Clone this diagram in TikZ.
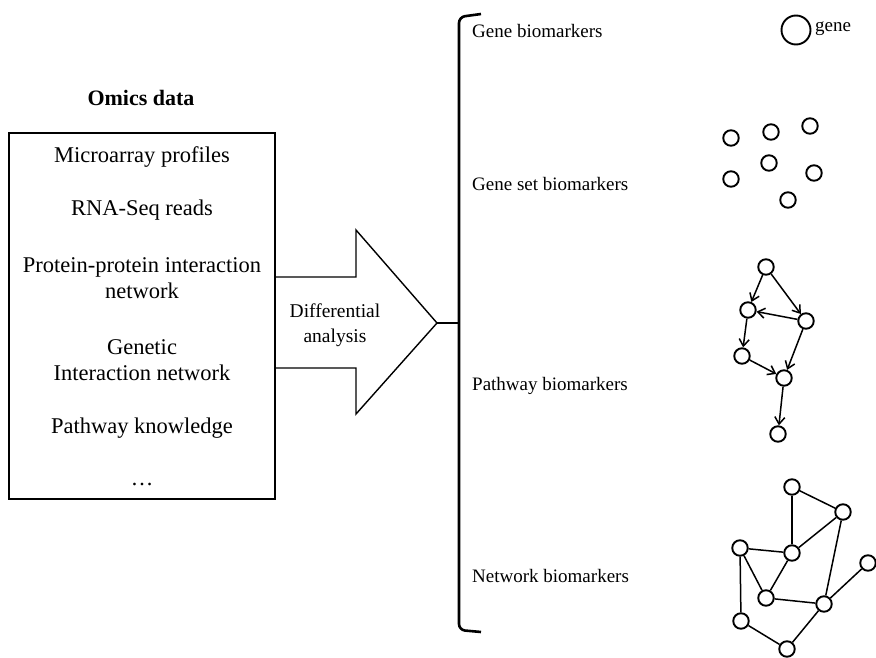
\documentclass[tikz,border=0pt]{standalone}
\usepackage{fontspec}
\setmainfont{Liberation Serif}
\usetikzlibrary{arrows.meta}
\begin{document}
\begin{tikzpicture}[x=1pt,y=-1pt,
  boxtext/.style={font=\fontsize{22.5}{26.5}\selectfont, inner sep=0pt, align=center},
  lbl/.style={font=\fontsize{19}{22}\selectfont, anchor=west, inner sep=0pt},
  gn/.style={circle, draw, line width=1.9pt, minimum size=15.5pt, inner sep=0pt},
  ed/.style={line width=1.5pt},
  dir/.style={line width=1.5pt, -{Straight Barb[length=7pt,width=10pt,line width=1.5pt]}},
  thin/.style={line width=1.4pt}
]
\useasboundingbox (0,0) rectangle (876,658);

% Omics box
\node[font=\fontsize{22}{26}\selectfont\bfseries, inner sep=0pt] (title) at (141,98) {Omics data};
\draw[thin] (9,133) rectangle (275,499);
\coordinate (boxa) at (275,277);
\coordinate (boxb) at (275,368);
\node[boxtext] (t1) at (142,157) {Microarray profiles};
\node[boxtext] (t2) at (142,210) {RNA-Seq reads};
\node[boxtext] (t3) at (142,278) {Protein-protein interaction\\network};
\node[boxtext] (t4) at (142,360) {Genetic\\Interaction network};
\node[boxtext] (t5) at (142,428) {Pathway knowledge};
\node[boxtext] (t6) at (142,484) {\dots};

% big arrow
\coordinate (tip) at (437,323);
\draw[thin, line join=miter] (boxa) -- (356,277) -- (356,230) -- (tip) -- (356,414) -- (356,368) -- (boxb);
\node[font=\fontsize{19.5}{24.5}\selectfont, align=center, inner sep=0pt] (diff) at (335,325) {Differential\\analysis};

% brace
\coordinate (bmid) at (459,323);
\draw[line width=2.6pt, rounded corners=6pt] (481,14) -- (459,17) -- (459,630) -- (481,632);
\draw[line width=2.6pt] (tip) -- (bmid);

% labels
\node[lbl] (l1) at (472,31) {Gene biomarkers};
\node[lbl] (l2) at (472,184) {Gene set biomarkers};
\node[lbl] (l3) at (472,386) {Pathway biomarkers};
\node[lbl] (l4) at (472,576) {Network biomarkers};

% gene legend
\node[circle, draw, line width=1.9pt, minimum size=29pt, inner sep=0pt] (g0) at (796,30) {};
\node[font=\fontsize{19}{22}\selectfont, anchor=west, inner sep=0pt] (gt) at (815,29) {gene};

% gene set
\node[gn] (s1) at (731,138) {};
\node[gn] (s2) at (771,132) {};
\node[gn] (s3) at (810,126) {};
\node[gn] (s4) at (769,163) {};
\node[gn] (s5) at (731,179) {};
\node[gn] (s6) at (814,173) {};
\node[gn] (s7) at (788,200) {};

% pathway
\node[gn] (pa) at (766,267) {};
\node[gn] (pb) at (748,310) {};
\node[gn] (pc) at (806,321) {};
\node[gn] (pd) at (742,356) {};
\node[gn] (pe) at (784,378) {};
\node[gn] (pf) at (778,434) {};
\draw[dir] (pa) -- (pb);
\draw[dir] (pa) -- (pc);
\draw[dir] (pc) -- (pb);
\draw[dir] (pb) -- (pd);
\draw[dir] (pd) -- (pe);
\draw[dir] (pc) -- (pe);
\draw[dir] (pe) -- (pf);

% network
\node[gn] (n1) at (792,487) {};
\node[gn] (n2) at (843,512) {};
\node[gn] (n3) at (740,548) {};
\node[gn] (n4) at (792,553) {};
\node[gn] (n5) at (868,563) {};
\node[gn] (n6) at (766,598) {};
\node[gn] (n7) at (824,604) {};
\node[gn] (n8) at (741,621) {};
\node[gn] (n9) at (787,649) {};
\draw[ed] (n1) -- (n2);
\draw[ed] (n1) -- (n4);
\draw[ed] (n2) -- (n4);
\draw[ed] (n2) -- (n7);
\draw[ed] (n3) -- (n4);
\draw[ed] (n3) -- (n6);
\draw[ed] (n3) -- (n8);
\draw[ed] (n4) -- (n6);
\draw[ed] (n6) -- (n7);
\draw[ed] (n7) -- (n5);
\draw[ed] (n7) -- (n9);
\draw[ed] (n8) -- (n9);
\end{tikzpicture}
\end{document}
